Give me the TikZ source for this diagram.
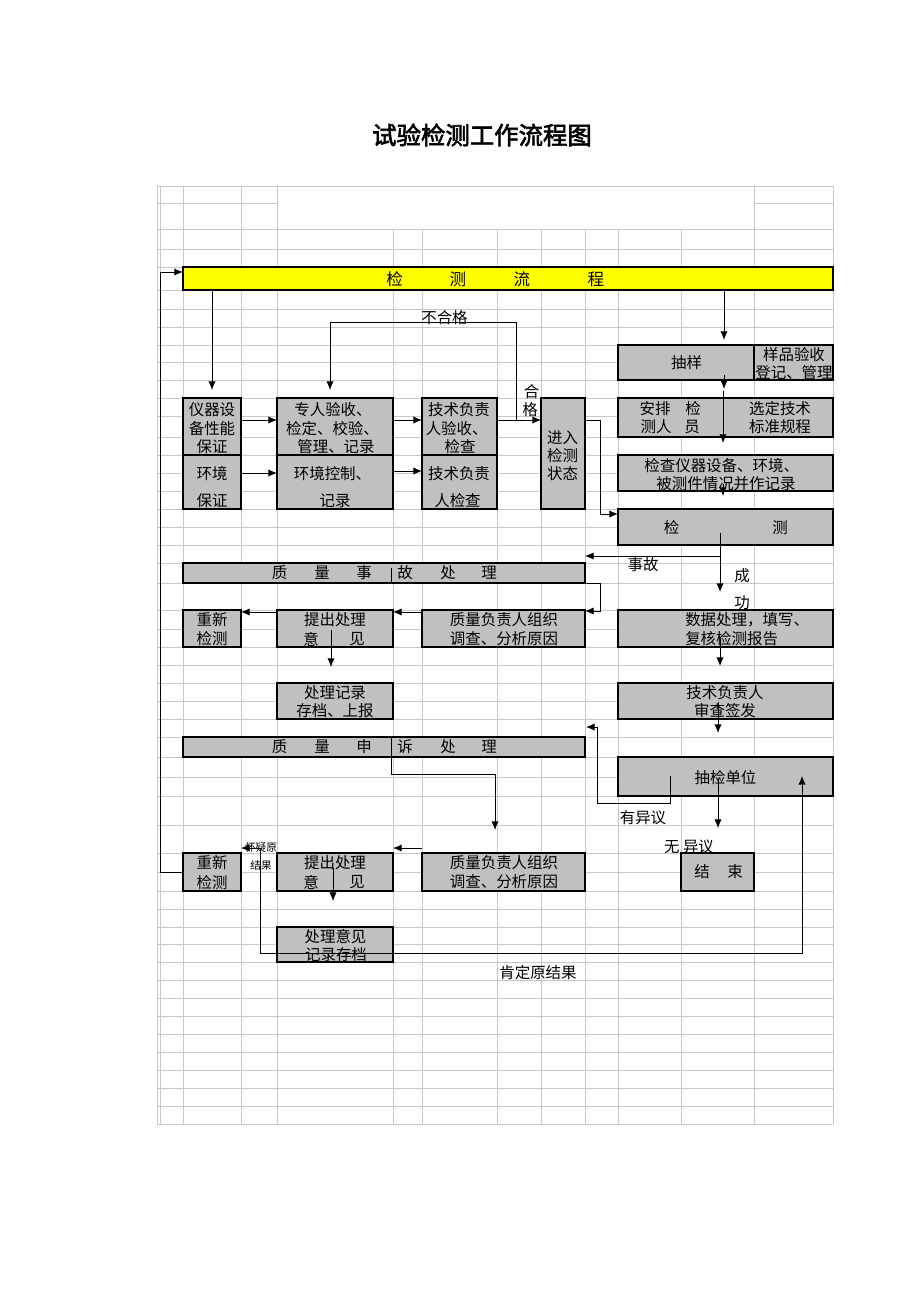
\documentclass[tikz,border=0pt]{standalone}
\usepackage{fontspec}
\setmainfont{Noto Sans CJK SC}
\newfontfamily\titlefont[FakeBold=2.5]{Noto Sans CJK SC}
\usetikzlibrary{arrows.meta,fit}
\definecolor{boxgray}{RGB}{192,192,192}
\definecolor{gridc}{RGB}{200,198,206}
\definecolor{baryellow}{RGB}{255,255,0}
\newcounter{tn}
\newcommand{\tx}[4][]{\stepcounter{tn}\node[txt,#1] (t\arabic{tn}) at (#2,#3) {#4};}
\begin{document}
\begin{tikzpicture}[x=0.75pt,y=-0.75pt,
  box/.style={draw=black, fill=boxgray, line width=0.8pt, inner sep=0pt, outer sep=0pt},
  txt/.style={inner sep=0pt, font=\fontsize{11.6}{13}\selectfont},
  small/.style={font=\fontsize{8}{9}\selectfont},
  barchar/.style={font=\fontsize{12.4}{13}\selectfont},
  gridline/.style={draw=gridc, line width=0.5pt},
  conn/.style={draw=black, line width=0.75pt},
  arr/.style={conn, -{Latex[length=6.5pt,width=5.5pt]}},
  darr/.style={conn, {Latex[length=6.5pt,width=5.5pt]}-{Latex[length=6.5pt,width=5.5pt]}}
]
\useasboundingbox[fill=white] (0,0) rectangle (920,1302);

% ---------- spreadsheet grid ----------
\foreach \y in {186,229,249,267,290,309,327,345,362,380,398,416,437,455,473,491,509,527,545,563,583,610,629,647,665,683,701,719,737,757,777,796,825,853,872,891,909,927,944,962,980,998,1016,1034,1052,1070,1088,1106,1124}
  \draw[gridline] (157,\y) -- (833,\y);
\draw[gridline] (157,203) -- (277,203);
\draw[gridline] (754,203) -- (833,203);
\foreach \x in {157,160,183,241,277,754,833}
  \draw[gridline] (\x,186) -- (\x,229);
\foreach \x in {157,160,183,241,277,393,422,497,541,585,618,681,754,833}
  \draw[gridline] (\x,229) -- (\x,1124);

% ---------- title ----------
\node[inner sep=0pt, font=\titlefont\fontsize{18.3}{20}\selectfont] (title) at (482,135) {试验检测工作流程图};

% ---------- boxes ----------
\node[box, fill=baryellow, fit={(183,267)(833,290)}] (bar) {};
\node[box, fit={(183,398)(241,455)}] (A1) {};
\node[box, fit={(183,455)(241,509)}] (A2) {};
\node[box, fit={(277,398)(393,455)}] (B1) {};
\node[box, fit={(277,455)(393,509)}] (B2) {};
\node[box, fit={(422,398)(497,455)}] (C1) {};
\node[box, fit={(422,455)(497,509)}] (C2) {};
\node[box, fit={(541,398)(585,509)}] (D) {};
\node[box, fit={(618,345)(754,380)}] (E1) {};
\node[box, fit={(754,345)(833,380)}] (E2) {};
\node[box, fit={(618,398)(833,437)}] (F) {};
\node[box, fit={(618,455)(833,491)}] (G) {};
\node[box, fit={(618,509)(833,545)}] (H) {};
\node[box, fit={(183,563)(585,583)}] (Q1) {};
\node[box, fit={(183,610)(241,647)}] (I1) {};
\node[box, fit={(277,610)(393,647)}] (I2) {};
\node[box, fit={(422,610)(585,647)}] (I3) {};
\node[box, fit={(618,610)(833,647)}] (K) {};
\node[box, fit={(277,683)(393,719)}] (J) {};
\node[box, fit={(618,683)(833,719)}] (L) {};
\node[box, fit={(183,737)(585,757)}] (Q2) {};
\node[box, fit={(618,757)(833,796)}] (M) {};
\node[box, fit={(183,853)(241,891)}] (N1) {};
\node[box, fit={(277,853)(393,891)}] (N2) {};
\node[box, fit={(422,853)(585,891)}] (N3) {};
\node[box, fit={(681,853)(754,891)}] (END) {};
\node[box, fit={(277,927)(393,962)}] (P) {};

% ---------- connectors ----------
\coordinate (L1) at (160,872);
\coordinate (L2) at (160,272);
\draw[arr] (N1.west) -- (L1) -- (L2) -- (bar.west |- L2);

\draw[arr] (bar.south -| 212,0) -- (212,390);
\draw[arr] (bar.south -| 724,0) -- (724,340);

\draw[arr] (A1.east |- 0,420) -- (B1.west |- 0,420);
\draw[arr] (B1.east |- 0,420) -- (C1.west |- 0,420);
\draw[arr] (A2.east |- 0,473) -- (B2.west |- 0,473);
\draw[arr] (B2.east |- 0,471) -- (C2.west |- 0,471);
\draw[arr] (C1.east |- 0,420) -- (D.west |- 0,420);

\coordinate (NG) at (516,420);
\draw[arr] (NG) -- (516,322) -- (330,322) -- (330,390);

\draw[arr] (D.east |- 0,420) -- (600,420) -- (600,514) -- (H.west |- 0,514);

\draw[arr] (724,375) -- (724,389);
\draw[arr] (723,391) -- (723,443);
\draw[arr] (723,484) -- (723,496);

\draw[arr] (720,533) -- (720,592);
\draw[arr] (720,556) -- (Q1.east |- 0,556);

\draw[line width=0.75pt] (391,568) -- (Q1.south -| 391,0);
\draw[arr] (Q1.south east) -- (600,583) -- (600,611) -- (I3.east |- 0,611);
\draw[arr] (I3.west |- 0,612) -- (I2.east |- 0,612);
\draw[arr] (I2.west |- 0,612) -- (I1.east |- 0,612);
\draw[arr] (331,630) -- (331,667);

\draw[arr] (720,637) -- (720,666);
\draw[arr] (718,702) -- (718,733);

\draw[arr] (670,776) -- (670,803) -- (597,803) -- (597,727) -- (586,727);
\draw[arr] (718,778) -- (718,828);

\draw[arr] (Q2.north -| 391,0) -- (391,774) -- (495,774) -- (495,830);
\draw[arr] (N3.west |- 0,848) -- (N2.east |- 0,848);
\draw[arr] (333,868) -- (333,901);

\coordinate (UP) at (802,776);
\draw[darr] (N1.east |- 0,848) -- (260,848) -- (260,953) -- (802,953) -- (UP);

% ---------- texts ----------
\tx[barchar]{394.6}{279}{检}
\tx[barchar]{458}{279}{测}
\tx[barchar]{522}{279}{流}
\tx[barchar]{596}{279}{程}

\tx{212}{410}{仪器设}
\tx{212}{429}{备性能}
\tx{212}{447}{保证}
\tx{212}{474}{环境}
\tx{212}{501}{保证}

\tx{333}{410}{专人验收、}
\tx{332.5}{429}{检定、校验、}
\tx{336}{447}{管理、记录}
\tx{332.5}{474}{环境控制、}
\tx{335}{501}{记录}

\tx{459}{410}{技术负责}
\tx{456.7}{429}{人验收、}
\tx{460}{447}{检查}
\tx{459}{474}{技术负责}
\tx{457.5}{501}{人检查}

\tx{562.5}{438}{进入}
\tx{562.5}{456}{检测}
\tx{562.5}{474}{状态}

\tx{686.7}{363}{抽样}
\tx{794}{355}{样品验收}
\tx{794}{372.7}{登记、管理}

\tx{655}{409}{安排}
\tx{693}{409}{检}
\tx{656}{427}{测人}
\tx{692}{427}{员}
\tx{780}{409}{选定技术}
\tx{780}{427}{标准规程}

\tx{721.7}{466}{检查仪器设备、环境、}
\tx{726}{484}{被测件情况并作记录}

\tx{671.7}{528}{检}
\tx{780}{528}{测}

\tx{279.5}{573}{质}
\tx{322}{573}{量}
\tx{364}{573}{事}
\tx{405}{573}{故}
\tx{448}{573}{处}
\tx{489}{573}{理}

\tx{212}{620}{重新}
\tx{212}{639}{检测}
\tx{335}{620}{提出处理}
\tx{311}{639}{意}
\tx{357}{639}{见}
\tx{504}{619.5}{质量负责人组织}
\tx{504}{638.5}{调查、分析原因}
\tx[anchor=west]{685}{620}{数据处理，填写、}
\tx[anchor=west]{685}{639}{复核检测报告}

\tx{335}{693}{处理记录}
\tx{335}{711}{存档、上报}
\tx{725}{693}{技术负责人}
\tx{725}{711}{审查签发}

\tx{279.5}{747}{质}
\tx{322}{747}{量}
\tx{364}{747}{申}
\tx{405}{747}{诉}
\tx{448}{747}{处}
\tx{489}{747}{理}

\tx{725.5}{778}{抽检单位}

\tx{212}{863}{重新}
\tx{212}{883}{检测}
\tx{335}{863}{提出处理}
\tx{311}{882}{意}
\tx{357}{882}{见}
\tx{504}{863}{质量负责人组织}
\tx{504}{882}{调查、分析原因}
\tx{702}{872}{结}
\tx{735}{872}{束}
\tx{335.5}{937}{处理意见}
\tx{336}{955}{记录存档}

\tx{444.5}{318}{不合格}
\tx{531.5}{391.5}{合}
\tx{530}{410}{格}
\tx{643}{565}{事故}
\tx{742}{576}{成}
\tx{742}{603}{功}
\tx{643}{818}{有异议}
\tx{689}{847}{无 异议}
\tx[small]{261}{847}{怀疑原}
\tx[small]{261}{865}{结果}
\tx{538}{973}{肯定原结果}
\end{tikzpicture}
\end{document}
